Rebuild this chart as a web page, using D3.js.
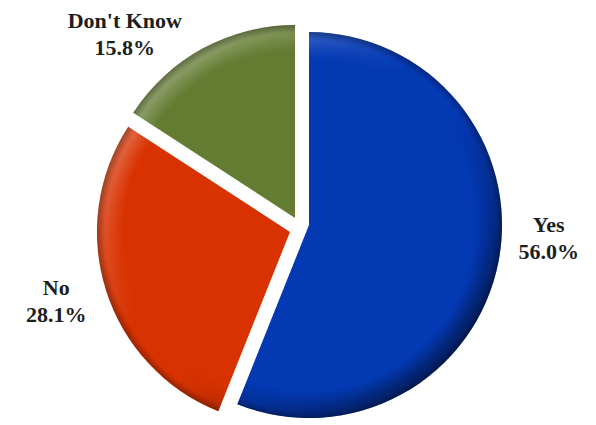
<!DOCTYPE html>
<html>
<head>
<meta charset="utf-8">
<script src="https://cdn.jsdelivr.net/npm/d3@7"></script>
<style>
  html, body { margin: 0; padding: 0; background: #fff; }
  svg { display: block; }
</style>
</head>
<body>
<div id="chart"></div>
<script>
// ---- data ----
const categories = ["Yes", "No", "Don't Know"];
const values = [56.0, 28.1, 15.8];
const labels = ["56.0%", "28.1%", "15.8%"];
const colors = ["#0439b4", "#d83200", "#647b32"];

// ---- layout ----
const W = 596, H = 425;
const cx = 297.6, cy = 222.8, R = 193;
// exploded-slice offsets (layout only)
const sliceShift = [[11.4, 2.2], [-7.6, 9.2], [-2.6, -4.8]];
// label anchor positions (angle in degrees clockwise from top, distance from centre)
const labelLayout = [
  { angle: 95, dist: 252 },
  { angle: 250.5, dist: 256 },
  { angle: 316.5, dist: 251 }
];

const svg = d3.select("#chart").append("svg")
  .attr("width", W).attr("height", H);

const defs = svg.append("defs");

// bevel lighting gradient (light top-left, dark bottom-right)
const lg = defs.append("linearGradient").attr("id", "bevelLight")
  .attr("gradientUnits", "userSpaceOnUse")
  .attr("x1", -R).attr("y1", -R).attr("x2", R).attr("y2", R);
lg.append("stop").attr("offset", 0).attr("stop-color", "#ffffff").attr("stop-opacity", 0.38);
lg.append("stop").attr("offset", 0.42).attr("stop-color", "#ffffff").attr("stop-opacity", 0.0);
lg.append("stop").attr("offset", 0.55).attr("stop-color", "#000000").attr("stop-opacity", 0.0);
lg.append("stop").attr("offset", 1).attr("stop-color", "#000000").attr("stop-opacity", 0.6);

// radial mask restricting the bevel to the rim
const rg = defs.append("radialGradient").attr("id", "rimGrad")
  .attr("gradientUnits", "userSpaceOnUse")
  .attr("cx", 0).attr("cy", 0).attr("r", R);
rg.append("stop").attr("offset", 0).attr("stop-color", "#000");
rg.append("stop").attr("offset", 0.86).attr("stop-color", "#000");
rg.append("stop").attr("offset", 0.95).attr("stop-color", "#fff");
rg.append("stop").attr("offset", 1).attr("stop-color", "#fff");
defs.append("mask").attr("id", "rimMask")
  .attr("maskUnits", "userSpaceOnUse")
  .attr("x", -R - 5).attr("y", -R - 5).attr("width", 2 * R + 10).attr("height", 2 * R + 10)
  .append("rect")
  .attr("x", -R - 5).attr("y", -R - 5).attr("width", 2 * R + 10).attr("height", 2 * R + 10)
  .attr("fill", "url(#rimGrad)");

// outer edge darkening
const eg = defs.append("radialGradient").attr("id", "edgeDark")
  .attr("gradientUnits", "userSpaceOnUse")
  .attr("cx", 0).attr("cy", 0).attr("r", R);
eg.append("stop").attr("offset", 0.96).attr("stop-color", "#000").attr("stop-opacity", 0);
eg.append("stop").attr("offset", 1).attr("stop-color", "#000").attr("stop-opacity", 0.3);

const pie = d3.pie().sort(null).value(d => d);
const arcs = pie(values);
const arc = d3.arc().innerRadius(0).outerRadius(R);

const g = svg.append("g").attr("transform", `translate(${cx},${cy})`);

const slices = g.selectAll("g.slice").data(arcs).join("g")
  .attr("class", "slice")
  .attr("transform", (d, i) => `translate(${sliceShift[i][0]},${sliceShift[i][1]})`);

slices.append("path").attr("d", arc).attr("fill", (d, i) => colors[i]);
slices.append("path").attr("d", arc).attr("fill", "url(#bevelLight)").attr("mask", "url(#rimMask)");
slices.append("path").attr("d", arc).attr("fill", "url(#edgeDark)");

// labels
const lbl = svg.append("g")
  .attr("font-family", "'Liberation Serif', 'Times New Roman', serif")
  .attr("font-weight", "bold")
  .attr("font-size", 22)
  .attr("fill", "#1e1e1e")
  .attr("text-anchor", "middle");

categories.forEach((c, i) => {
  const L = labelLayout[i];
  const a = L.angle * Math.PI / 180;
  const x = cx + L.dist * Math.sin(a);
  const y = cy - L.dist * Math.cos(a);
  const t = lbl.append("text").attr("x", x).attr("y", y);
  t.append("tspan").attr("x", x).attr("dy", -13).text(c);
  t.append("tspan").attr("x", x).attr("dy", 27).text(labels[i]);
});
</script>
</body>
</html>
